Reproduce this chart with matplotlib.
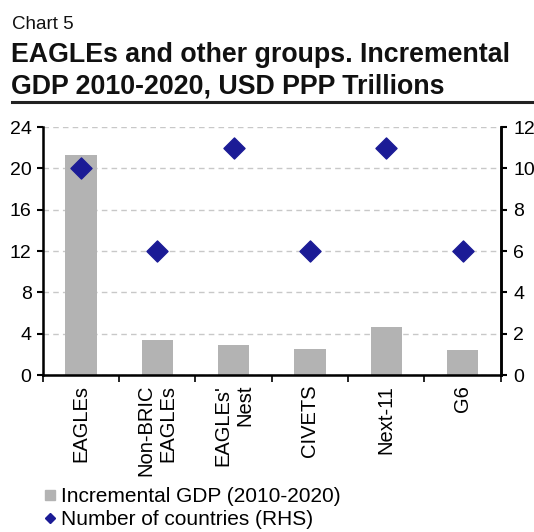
import matplotlib
matplotlib.use("Agg")
import matplotlib.pyplot as plt
from matplotlib.lines import Line2D
import numpy as np

plt.rcParams['font.family'] = ['Liberation Sans', 'DejaVu Sans']

categories = ["EAGLEs", "Non-BRIC\nEAGLEs", "EAGLEs'\nNest", "CIVETS", "Next-11", "G6"]
incremental_gdp = [21.3, 3.4, 2.95, 2.55, 4.6, 2.45]
num_countries = [10, 6, 11, 6, 11, 6]
left_ticks = [0, 4, 8, 12, 16, 20, 24]
right_ticks = [0, 2, 4, 6, 8, 10, 12]
legend_labels = ["Incremental GDP (2010-2020)", "Number of countries (RHS)"]

bar_color = "#b3b3b3"
dia_color = "#1b1b96"

W, H = 534, 532
fig = plt.figure(figsize=(W / 100, H / 100), dpi=100)


def fy(py):
    return 1 - py / H


fig.text(12 / W, fy(29), "Chart 5", fontsize=13.5, ha="left", va="baseline", color="#111111")
fig.text(11 / W, fy(62), "EAGLEs and other groups. Incremental",
         fontsize=19.3, fontweight="bold", ha="left", va="baseline", color="#111111")
fig.text(11 / W, fy(93.5), "GDP 2010-2020, USD PPP Trillions",
         fontsize=19.3, fontweight="bold", ha="left", va="baseline", color="#111111")
fig.add_artist(Line2D([12 / W, 1.0], [fy(101.5), fy(101.5)], color="#222222", lw=2.2))

ax = fig.add_axes([42.7 / W, fy(375), 458 / W, 248 / H])
x = np.arange(len(categories))
ax.bar(x, incremental_gdp, width=0.41, color=bar_color, zorder=2)
ax.set_xlim(-0.5, len(categories) - 0.5)
ax.set_ylim(0, 24)
ax.set_yticks(left_ticks)
ax.yaxis.grid(True, color="#c8c8c8", linestyle=(0, (4, 3)), lw=1.0, zorder=0)
ax.set_axisbelow(True)
ax.tick_params(axis="y", labelsize=14, length=4, width=1.5, direction="out", pad=4)

# category names centred on each group, tick marks on the group boundaries
ax.set_xticks(x)
ax.set_xticklabels(categories, rotation=90, fontsize=14.5, va="top", ha="center",
                   multialignment="right", linespacing=1.2)
ax.tick_params(axis="x", length=0, pad=7)
ax.set_xticks(np.arange(-0.5, len(categories) + 0.5, 1), minor=True)
ax.tick_params(axis="x", which="minor", length=5, width=1.2, direction="out")

ax.spines["top"].set_visible(False)
for s in ["left", "bottom", "right"]:
    ax.spines[s].set_linewidth(1.8)

ax2 = ax.twinx()
ax2.scatter(x, num_countries, marker="D", s=115, color=dia_color, zorder=3)
ax2.set_ylim(0, 12)
ax2.set_yticks(right_ticks)
ax2.tick_params(axis="y", labelsize=14, length=4, width=1.5, direction="out", pad=5)
ax2.spines["top"].set_visible(False)
ax2.spines["right"].set_linewidth(1.8)

handles = [
    Line2D([0], [0], marker="s", linestyle="none", color=bar_color, markersize=6.5),
    Line2D([0], [0], marker="D", linestyle="none", color=dia_color, markersize=5),
]
fig.legend(handles, legend_labels,
           loc="upper left", bbox_to_anchor=(44 / W, fy(487)), frameon=False, fontsize=15,
           handlelength=0.55, handletextpad=0.25, labelspacing=0.2, borderpad=0, borderaxespad=0)

fig.savefig("out.png", dpi=100)
